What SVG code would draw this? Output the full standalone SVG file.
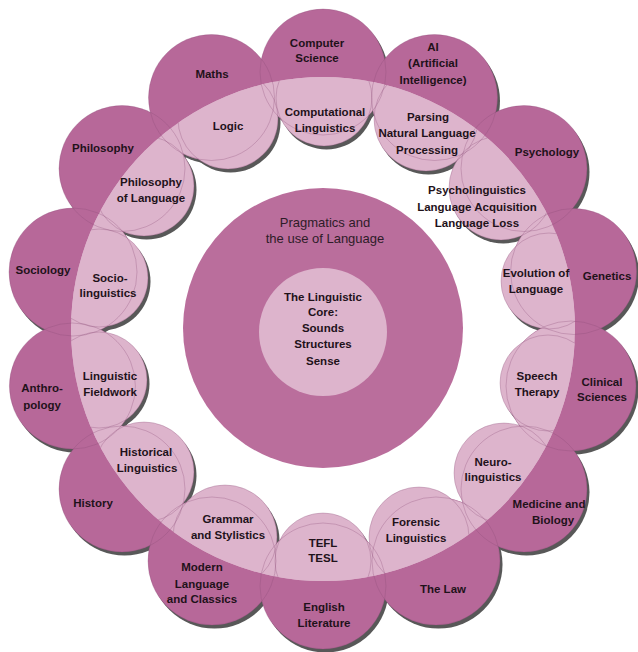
<svg xmlns="http://www.w3.org/2000/svg" width="638" height="652" viewBox="0 0 638 652">
<style>
.t{font-family:"Liberation Sans",Arial,sans-serif;font-weight:bold;font-size:11.5px;fill:#1f121a;text-anchor:middle}
.p{font-family:"Liberation Sans",Arial,sans-serif;font-size:13px;fill:#2e1c28;text-anchor:middle}
.ol{fill:none;stroke:#8c4b77;stroke-opacity:.3;stroke-width:1}
</style>
<defs>
<filter id="blur" x="-10%" y="-10%" width="120%" height="120%"><feGaussianBlur stdDeviation="0.6"/></filter>
<clipPath id="band"><circle cx="323" cy="329" r="252"/></clipPath>
<circle id="o0" cx="323" cy="72" r="63"/>
<circle id="o1" cx="434.5" cy="97.5" r="63"/>
<circle id="o2" cx="524" cy="168.5" r="63"/>
<circle id="o3" cx="573.6" cy="271.5" r="63"/>
<circle id="o4" cx="571" cy="386" r="65"/>
<circle id="o5" cx="524" cy="489" r="63"/>
<circle id="o6" cx="436" cy="561" r="64"/>
<circle id="o7" cx="323" cy="586" r="63"/>
<circle id="o8" cx="212" cy="561" r="64"/>
<circle id="o9" cx="122" cy="489" r="63"/>
<circle id="o10" cx="72.4" cy="386" r="63"/>
<circle id="o11" cx="73" cy="272" r="64"/>
<circle id="o12" cx="122" cy="168.5" r="63"/>
<circle id="o13" cx="211.5" cy="97.5" r="63"/>
<circle id="i0" cx="324" cy="98" r="48"/>
<circle id="i1" cx="426" cy="119" r="52"/>
<circle id="i2" cx="501" cy="188" r="52"/>
<circle id="i3" cx="549" cy="281" r="48"/>
<circle id="i4" cx="548" cy="383" r="48"/>
<circle id="i5" cx="504" cy="473" r="50"/>
<circle id="i6" cx="419" cy="537" r="50"/>
<circle id="i7" cx="323" cy="561" r="48"/>
<circle id="i8" cx="225" cy="537" r="52"/>
<circle id="i9" cx="144" cy="472" r="50"/>
<circle id="i10" cx="99" cy="380" r="48"/>
<circle id="i11" cx="99" cy="278" r="49"/>
<circle id="i12" cx="144" cy="186" r="50"/>
<circle id="i13" cx="228" cy="119" r="50"/>
</defs>
<rect width="638" height="652" fill="#ffffff"/>
<g id="shadows" fill="#585858" filter="url(#blur)" transform="translate(2.5,3.5)">
<use href="#o0"/><use href="#o1"/><use href="#o2"/><use href="#o3"/><use href="#o4"/><use href="#o5"/><use href="#o6"/><use href="#o7"/><use href="#o8"/><use href="#o9"/><use href="#o10"/><use href="#o11"/><use href="#o12"/><use href="#o13"/>
<g clip-path="url(#band)">
<use href="#i0"/><use href="#i1"/><use href="#i2"/><use href="#i3"/><use href="#i4"/><use href="#i5"/><use href="#i6"/><use href="#i7"/><use href="#i8"/><use href="#i9"/><use href="#i10"/><use href="#i11"/><use href="#i12"/><use href="#i13"/>
</g>
</g>
<g id="dark-ring" fill="#b76899">
<use href="#o0"/><use href="#o1"/><use href="#o2"/><use href="#o3"/><use href="#o4"/><use href="#o5"/><use href="#o6"/><use href="#o7"/><use href="#o8"/><use href="#o9"/><use href="#o10"/><use href="#o11"/><use href="#o12"/><use href="#o13"/>
</g>
<g id="light-band" fill="#ddb4cc" clip-path="url(#band)">
<use href="#o0"/><use href="#o1"/><use href="#o2"/><use href="#o3"/><use href="#o4"/><use href="#o5"/><use href="#o6"/><use href="#o7"/><use href="#o8"/><use href="#o9"/><use href="#o10"/><use href="#o11"/><use href="#o12"/><use href="#o13"/>
<use href="#i0"/><use href="#i1"/><use href="#i2"/><use href="#i3"/><use href="#i4"/><use href="#i5"/><use href="#i6"/><use href="#i7"/><use href="#i8"/><use href="#i9"/><use href="#i10"/><use href="#i11"/><use href="#i12"/><use href="#i13"/>
</g>
<g id="connectors"/>
<g id="pragmatics">
<circle cx="323" cy="328" r="140" fill="#ba6e9c"/>
<text class="p" x="325" y="227">Pragmatics and</text>
<text class="p" x="325" y="243">the use of Language</text>
</g>
<g id="core">
<circle cx="323" cy="332" r="64" fill="#ddb4cc"/>
<text class="t" x="323" y="301">The Linguistic</text>
<text class="t" x="323" y="316">Core:</text>
<text class="t" x="323" y="332">Sounds</text>
<text class="t" x="323" y="348">Structures</text>
<text class="t" x="323" y="365">Sense</text>
</g>
<g id="computer-science"><use href="#o0" class="ol"/><text class="t" x="317" y="47">Computer</text><text class="t" x="317" y="62">Science</text></g>
<g id="ai"><use href="#o1" class="ol"/><text class="t" x="433" y="51">AI</text><text class="t" x="433" y="67">(Artificial</text><text class="t" x="433" y="84">Intelligence)</text></g>
<g id="psychology"><use href="#o2" class="ol"/><text class="t" x="547" y="156">Psychology</text></g>
<g id="genetics"><use href="#o3" class="ol"/><text class="t" x="607" y="280">Genetics</text></g>
<g id="clinical-sciences"><use href="#o4" class="ol"/><text class="t" x="602" y="386">Clinical</text><text class="t" x="602" y="401">Sciences</text></g>
<g id="medicine-biology"><use href="#o5" class="ol"/><text class="t" x="549" y="508">Medicine and</text><text class="t" x="553" y="524">Biology</text></g>
<g id="the-law"><use href="#o6" class="ol"/><text class="t" x="443" y="593">The Law</text></g>
<g id="english-literature"><use href="#o7" class="ol"/><text class="t" x="324" y="611">English</text><text class="t" x="324" y="627">Literature</text></g>
<g id="modern-language"><use href="#o8" class="ol"/><text class="t" x="202" y="571">Modern</text><text class="t" x="202" y="588">Language</text><text class="t" x="202" y="603">and Classics</text></g>
<g id="history"><use href="#o9" class="ol"/><text class="t" x="93" y="507">History</text></g>
<g id="anthropology"><use href="#o10" class="ol"/><text class="t" x="42" y="392">Anthro-</text><text class="t" x="42" y="409">pology</text></g>
<g id="sociology"><use href="#o11" class="ol"/><text class="t" x="43" y="274">Sociology</text></g>
<g id="philosophy"><use href="#o12" class="ol"/><text class="t" x="103" y="152">Philosophy</text></g>
<g id="maths"><use href="#o13" class="ol"/><text class="t" x="212" y="78">Maths</text></g>
<g id="computational-linguistics"><use href="#i0" class="ol" clip-path="url(#band)"/><text class="t" x="325" y="116">Computational</text><text class="t" x="325" y="132">Linguistics</text></g>
<g id="parsing"><use href="#i1" class="ol" clip-path="url(#band)"/><text class="t" x="428" y="121">Parsing</text><text class="t" x="427" y="137">Natural Language</text><text class="t" x="427" y="154">Processing</text></g>
<g id="psycholinguistics"><use href="#i2" class="ol" clip-path="url(#band)"/><text class="t" x="477" y="194">Psycholinguistics</text><text class="t" x="477" y="211">Language Acquisition</text><text class="t" x="477" y="227">Language Loss</text></g>
<g id="evolution-of-language"><use href="#i3" class="ol" clip-path="url(#band)"/><text class="t" x="536" y="277">Evolution of</text><text class="t" x="536" y="293">Language</text></g>
<g id="speech-therapy"><use href="#i4" class="ol" clip-path="url(#band)"/><text class="t" x="537" y="380">Speech</text><text class="t" x="537" y="396">Therapy</text></g>
<g id="neurolinguistics"><use href="#i5" class="ol" clip-path="url(#band)"/><text class="t" x="493" y="466">Neuro-</text><text class="t" x="493" y="481">linguistics</text></g>
<g id="forensic-linguistics"><use href="#i6" class="ol" clip-path="url(#band)"/><text class="t" x="416" y="526">Forensic</text><text class="t" x="416" y="542">Linguistics</text></g>
<g id="tefl-tesl"><use href="#i7" class="ol" clip-path="url(#band)"/><text class="t" x="323" y="547">TEFL</text><text class="t" x="323" y="562">TESL</text></g>
<g id="grammar-stylistics"><use href="#i8" class="ol" clip-path="url(#band)"/><text class="t" x="228" y="523">Grammar</text><text class="t" x="228" y="539">and Stylistics</text></g>
<g id="historical-linguistics"><use href="#i9" class="ol" clip-path="url(#band)"/><text class="t" x="146" y="456">Historical</text><text class="t" x="147" y="472">Linguistics</text></g>
<g id="linguistic-fieldwork"><use href="#i10" class="ol" clip-path="url(#band)"/><text class="t" x="110" y="380">Linguistic</text><text class="t" x="110" y="396">Fieldwork</text></g>
<g id="sociolinguistics"><use href="#i11" class="ol" clip-path="url(#band)"/><text class="t" x="110" y="282">Socio-</text><text class="t" x="108" y="297">linguistics</text></g>
<g id="philosophy-of-language"><use href="#i12" class="ol" clip-path="url(#band)"/><text class="t" x="151" y="186">Philosophy</text><text class="t" x="151" y="202">of Language</text></g>
<g id="logic"><use href="#i13" class="ol" clip-path="url(#band)"/><text class="t" x="228" y="130">Logic</text></g>
</svg>
